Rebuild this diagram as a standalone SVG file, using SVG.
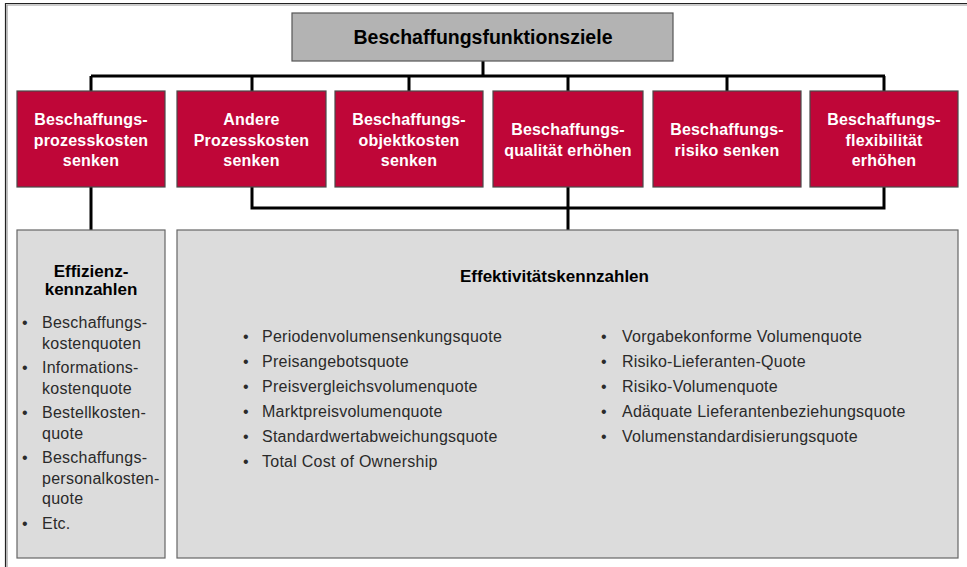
<svg xmlns="http://www.w3.org/2000/svg" width="967" height="567" viewBox="0 0 967 567">
<style>
.red{fill:#BF0638;stroke:#4a4a4a;stroke-width:1.2}
.rt{font-family:"Liberation Sans",Arial,sans-serif;font-weight:bold;font-size:16px;fill:#fff;text-anchor:middle;letter-spacing:0.2px}
.gbox{fill:#DCDCDC;stroke:#666;stroke-width:1.2}
.hd{font-family:"Liberation Sans",Arial,sans-serif;font-weight:bold;fill:#000}
.it{font-family:"Liberation Sans",Arial,sans-serif;font-size:16px;fill:#2a2a2a;letter-spacing:0.25px}
.con{fill:none;stroke:#000;stroke-width:3}
</style>
<rect width="967" height="567" fill="#fff"/>
<path d="M5.5,567 V3.5 H967" fill="none" stroke="#222" stroke-width="1.2"/>
<path d="M7,567 V5 H967" fill="none" stroke="#999" stroke-width="1.2"/>

<g id="connectors">
<path class="con" d="M483,61 V76 M91,76 H885 M91,76 V91 M252,76 V91 M409,76 V91 M568,76 V91 M727,76 V91 M884,76 V91"/>
<path class="con" d="M91,187 V230 M252,187 V208 H884 V187 M568,187 V230"/>
</g>

<g id="top">
<rect x="292" y="13" width="381" height="48" fill="#B3B3B3" stroke="#555" stroke-width="1.2"/>
<text class="hd" x="483" y="44" text-anchor="middle" font-size="19.5">Beschaffungsfunktionsziele</text>
</g>

<g id="n1"><rect class="red" x="17" y="91" width="148" height="96"/>
<text class="rt" x="91" y="125">Beschaffungs-</text><text class="rt" x="91" y="145.5">prozesskosten</text><text class="rt" x="91" y="166">senken</text></g>
<g id="n2"><rect class="red" x="177" y="91" width="149" height="96"/>
<text class="rt" x="251.5" y="125">Andere</text><text class="rt" x="251.5" y="145.5">Prozesskosten</text><text class="rt" x="251.5" y="166">senken</text></g>
<g id="n3"><rect class="red" x="335" y="91" width="148" height="96"/>
<text class="rt" x="409" y="125">Beschaffungs-</text><text class="rt" x="409" y="145.5">objektkosten</text><text class="rt" x="409" y="166">senken</text></g>
<g id="n4"><rect class="red" x="493" y="91" width="150" height="96"/>
<text class="rt" x="568" y="135">Beschaffungs-</text><text class="rt" x="568" y="155.5">qualität erhöhen</text></g>
<g id="n5"><rect class="red" x="653" y="91" width="148" height="96"/>
<text class="rt" x="727" y="135">Beschaffungs-</text><text class="rt" x="727" y="155.5">risiko senken</text></g>
<g id="n6"><rect class="red" x="810" y="91" width="148" height="96"/>
<text class="rt" x="884" y="125">Beschaffungs-</text><text class="rt" x="884" y="145.5">flexibilität</text><text class="rt" x="884" y="166">erhöhen</text></g>

<g id="effizienz">
<rect class="gbox" x="17" y="230" width="148" height="328"/>
<text class="hd" x="91" y="277" text-anchor="middle" font-size="17">Effizienz-</text>
<text class="hd" x="91" y="295" text-anchor="middle" font-size="17">kennzahlen</text>
<g class="it">
<text x="22" y="328">•</text><text x="42" y="328">Beschaffungs-</text><text x="42" y="348.5">kostenquoten</text>
<text x="22" y="373">•</text><text x="42" y="373">Informations-</text><text x="42" y="393.5">kostenquote</text>
<text x="22" y="418">•</text><text x="42" y="418">Bestellkosten-</text><text x="42" y="438.5">quote</text>
<text x="22" y="463">•</text><text x="42" y="463">Beschaffungs-</text><text x="42" y="483.5">personalkosten-</text><text x="42" y="504">quote</text>
<text x="22" y="528.5">•</text><text x="42" y="528.5">Etc.</text>
</g>
</g>

<g id="effektivitaet">
<rect class="gbox" x="177" y="230" width="781" height="328"/>
<text class="hd" x="460" y="282" font-size="17">Effektivitätskennzahlen</text>
<g class="it">
<text x="243" y="342">•</text><text x="262" y="342">Periodenvolumensenkungsquote</text>
<text x="243" y="367">•</text><text x="262" y="367">Preisangebotsquote</text>
<text x="243" y="392">•</text><text x="262" y="392">Preisvergleichsvolumenquote</text>
<text x="243" y="417">•</text><text x="262" y="417">Marktpreisvolumenquote</text>
<text x="243" y="442">•</text><text x="262" y="442">Standardwertabweichungsquote</text>
<text x="243" y="467">•</text><text x="262" y="467">Total Cost of Ownership</text>
<text x="601" y="342">•</text><text x="622" y="342">Vorgabekonforme Volumenquote</text>
<text x="601" y="367">•</text><text x="622" y="367">Risiko-Lieferanten-Quote</text>
<text x="601" y="392">•</text><text x="622" y="392">Risiko-Volumenquote</text>
<text x="601" y="417">•</text><text x="622" y="417">Adäquate Lieferantenbeziehungsquote</text>
<text x="601" y="442">•</text><text x="622" y="442">Volumenstandardisierungsquote</text>
</g>
</g>
</svg>
